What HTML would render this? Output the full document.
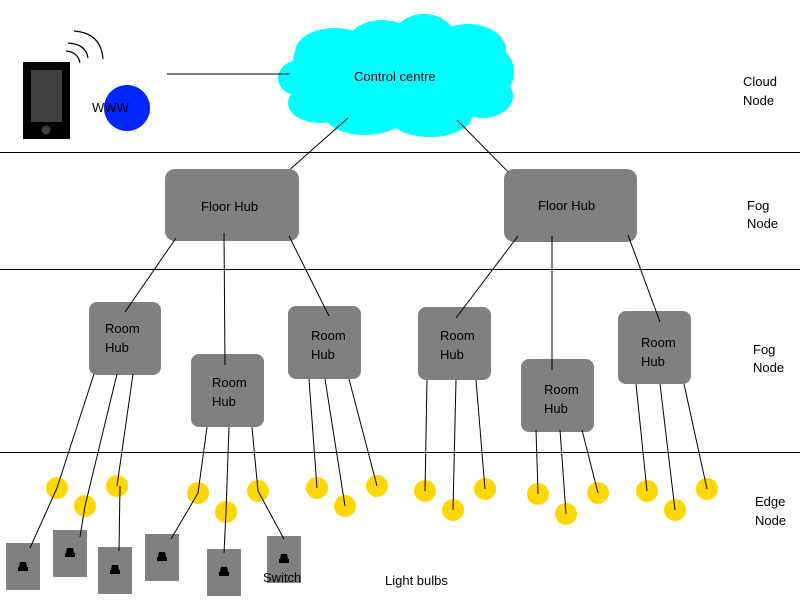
<!DOCTYPE html>
<html><head><style>body{margin:0;background:#fff}svg{display:block}text{font-family:"Liberation Sans",sans-serif;font-size:13px;fill:#000}</style></head><body>
<svg width="800" height="600" xmlns="http://www.w3.org/2000/svg">
<g stroke="#000" stroke-width="1"><line x1="0" y1="152.5" x2="800" y2="152.5"/><line x1="0" y1="269.5" x2="800" y2="269.5"/><line x1="0" y1="452.5" x2="800" y2="452.5"/></g>
<rect x="23" y="62" width="47" height="77" fill="#000"/><rect x="31" y="70" width="31" height="52" fill="#404040"/><circle cx="46" cy="130" r="4.5" fill="#404040"/>
<g fill="none" stroke="#000" stroke-width="1.2"><path d="M66 51 Q78 52 80 63"/><path d="M68 43 Q86 44 88 58"/><path d="M74 31 Q101 33 103 59"/></g>
<circle cx="127" cy="108" r="23" fill="#0026ff"/><text x="92" y="112" font-size="14">WWW</text>
<g fill="#00ffff">
<ellipse cx="400" cy="82" rx="100" ry="40"/><ellipse cx="335" cy="52" rx="40" ry="24"/><ellipse cx="382" cy="44" rx="35" ry="24"/><ellipse cx="424" cy="40" rx="32" ry="26"/><ellipse cx="468" cy="50" rx="38" ry="26"/><ellipse cx="490" cy="72" rx="24" ry="26"/><ellipse cx="483" cy="96" rx="30" ry="22"/><ellipse cx="300" cy="78" rx="22" ry="18"/><ellipse cx="320" cy="103" rx="32" ry="20"/><ellipse cx="365" cy="115" rx="40" ry="20"/><ellipse cx="430" cy="116" rx="42" ry="21"/><ellipse cx="315" cy="60" rx="22" ry="20"/>
</g>
<text x="354" y="81">Control centre</text>
<g stroke="#000" stroke-width="1">
<line x1="167" y1="74" x2="290" y2="74"/><line x1="348" y1="118" x2="278" y2="180"/><line x1="457" y1="120" x2="522" y2="186"/>
</g>
<g fill="#808080">
<rect x="165" y="169" width="134" height="72" rx="10"/><rect x="504" y="169" width="133" height="73" rx="10"/>
<rect x="89" y="302" width="72" height="73" rx="8"/><rect x="191" y="354" width="73" height="73" rx="8"/><rect x="288" y="306" width="73" height="73" rx="8"/><rect x="418" y="307" width="73" height="73" rx="8"/><rect x="521" y="359" width="73" height="73" rx="8"/><rect x="618" y="311" width="73" height="73" rx="8"/>
</g>
<text x="201" y="211">Floor Hub</text><text x="538" y="210">Floor Hub</text>
<text x="105" y="333">Room</text><text x="105" y="352">Hub</text>
<text x="212" y="387">Room</text><text x="212" y="406">Hub</text>
<text x="311" y="340">Room</text><text x="311" y="359">Hub</text>
<text x="440" y="340">Room</text><text x="440" y="359">Hub</text>
<text x="544" y="394">Room</text><text x="544" y="413">Hub</text>
<text x="641" y="347">Room</text><text x="641" y="366">Hub</text>
<g fill="#ffd700">
<circle cx="57" cy="488" r="11"/><circle cx="85" cy="506" r="11"/><circle cx="117" cy="486" r="11"/>
<circle cx="198" cy="493" r="11"/><circle cx="226" cy="512" r="11"/><circle cx="258" cy="491" r="11"/>
<circle cx="317" cy="488" r="11"/><circle cx="345" cy="506" r="11"/><circle cx="377" cy="486" r="11"/>
<circle cx="425" cy="491" r="11"/><circle cx="453" cy="510" r="11"/><circle cx="485" cy="489" r="11"/>
<circle cx="538" cy="494" r="11"/><circle cx="566" cy="514" r="11"/><circle cx="598" cy="493" r="11"/>
<circle cx="647" cy="491" r="11"/><circle cx="675" cy="510" r="11"/><circle cx="707" cy="489" r="11"/>
</g>
<g fill="#808080">
<rect x="6" y="543" width="34" height="47"/><rect x="53" y="530" width="34" height="47"/><rect x="98" y="547" width="34" height="47"/><rect x="145" y="534" width="34" height="47"/><rect x="207" y="549" width="34" height="47"/><rect x="267" y="536" width="34" height="47"/>
</g>
<g fill="#000">
<path d="M20 562h6l1 5h1v4h-10v-4h1z"/><path d="M67 548h6l1 5h1v4h-10v-4h1z"/><path d="M112 565h6l1 5h1v4h-10v-4h1z"/><path d="M159 552h6l1 5h1v4h-10v-4h1z"/><path d="M221 567h6l1 5h1v4h-10v-4h1z"/><path d="M281 554h6l1 5h1v4h-10v-4h1z"/>
</g>
<g stroke="#000" stroke-width="1">
<line x1="176" y1="238" x2="125" y2="312"/><line x1="224" y1="233" x2="225" y2="365"/><line x1="289" y1="236" x2="329" y2="316"/>
<line x1="518" y1="236" x2="456" y2="318"/><line x1="552" y1="236" x2="552" y2="370"/><line x1="628" y1="235" x2="660" y2="322"/>
<line x1="94" y1="374" x2="57" y2="488"/><line x1="117" y1="374" x2="85" y2="506"/><line x1="133" y1="374" x2="117" y2="486"/>
<line x1="207" y1="427" x2="198" y2="493"/><line x1="229" y1="427" x2="226" y2="512"/><line x1="252" y1="427" x2="258" y2="491"/>
<line x1="309" y1="379" x2="317" y2="488"/><line x1="325" y1="379" x2="345" y2="506"/><line x1="349" y1="379" x2="377" y2="486"/>
<line x1="427" y1="380" x2="425" y2="491"/><line x1="456" y1="380" x2="453" y2="510"/><line x1="476" y1="380" x2="485" y2="489"/>
<line x1="536" y1="430" x2="538" y2="494"/><line x1="560" y1="430" x2="566" y2="514"/><line x1="582" y1="430" x2="598" y2="493"/>
<line x1="636" y1="384" x2="647" y2="491"/><line x1="660" y1="384" x2="675" y2="510"/><line x1="684" y1="384" x2="707" y2="489"/>
<line x1="57" y1="488" x2="30" y2="548"/><line x1="85" y1="506" x2="80" y2="537"/><line x1="120" y1="486" x2="119" y2="551"/>
<line x1="198" y1="493" x2="171" y2="539"/><line x1="226" y1="512" x2="224" y2="553"/><line x1="258" y1="491" x2="284" y2="539"/>
</g>
<text x="263" y="582">Switch</text><text x="385" y="585">Light bulbs</text>
<text x="743" y="86">Cloud</text><text x="743" y="105">Node</text>
<text x="747" y="210">Fog</text><text x="747" y="228">Node</text>
<text x="753" y="354">Fog</text><text x="753" y="372">Node</text>
<text x="755" y="506">Edge</text><text x="755" y="525">Node</text>
</svg>
</body></html>
